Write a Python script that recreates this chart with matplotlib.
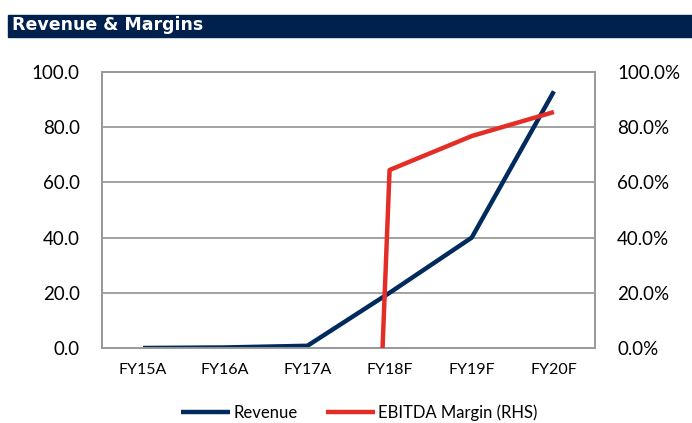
import numpy as np
import matplotlib
matplotlib.use('Agg')
import matplotlib.pyplot as plt
from matplotlib.patches import Rectangle
from matplotlib.ticker import FuncFormatter

years = ['FY15A', 'FY16A', 'FY17A', 'FY18F', 'FY19F', 'FY20F']
revenue = [0.0, 0.2, 0.8, 20.0, 40.0, 93.0]
ebitda_margin = [np.nan, np.nan, -690.0, 64.5, 76.8, 85.5]  # %, RHS

NAVY = '#002b5c'
RED = '#e32d26'
GRID = '#9a9a9a'

fig = plt.figure(figsize=(6.92, 4.23), dpi=100)

# header bar
fig.patches.append(Rectangle((8 / 692, 1 - 37 / 423), 684 / 692, 22 / 423,
                             transform=fig.transFigure, color='#00204e', zorder=0))
fig.text(12 / 692, 1 - 25 / 423, 'Revenue & Margins', color='white',
         fontsize=12.5, fontweight='bold', family='DejaVu Sans', va='center', ha='left')

ax = fig.add_axes([102 / 692, 75 / 423, 493 / 692, 276 / 423])
x = np.arange(len(years))

ax.plot(x, revenue, color=NAVY, lw=3.2, solid_capstyle='butt', zorder=3, label='Revenue')
ax.set_ylim(0, 100)
ax.set_xlim(-0.5, len(years) - 0.5)
ax.set_yticks(np.arange(0, 101, 20))
ax.yaxis.set_major_formatter(FuncFormatter(lambda v, p: f'{v:.1f}'))
ax.set_xticks(x)
ax.set_xticklabels(years, fontsize=11.5, family='Lato')
ax.tick_params(axis='x', length=0, pad=11)
ax.tick_params(axis='y', length=0, pad=16, labelsize=13.5)
for lab in ax.get_yticklabels():
    lab.set_family('Lato')
ax.grid(axis='y', color=GRID, lw=1.3)
ax.set_axisbelow(True)
for s in ax.spines.values():
    s.set_color(GRID)
    s.set_linewidth(1.3)

ax2 = ax.twinx()
ax2.plot(x, ebitda_margin, color=RED, lw=3.2, solid_capstyle='butt', zorder=3,
         label='EBITDA Margin (RHS)')
ax2.set_ylim(0, 100)
ax2.set_yticks(np.arange(0, 101, 20))
ax2.yaxis.set_major_formatter(FuncFormatter(lambda v, p: f'{v:.1f}%'))
ax2.tick_params(axis='y', length=0, pad=16, labelsize=13.5)
for lab in ax2.get_yticklabels():
    lab.set_family('Lato')
for s in ax2.spines.values():
    s.set_color(GRID)
    s.set_linewidth(1.3)

handles = ax.get_lines() + ax2.get_lines()
fig.legend(handles, [h.get_label() for h in handles], loc='center',
           bbox_to_anchor=(359 / 692, 1 - 413 / 423), ncol=2, frameon=False,
           prop={'family': 'Lato', 'size': 12}, handlelength=2.95,
           handletextpad=0.18, columnspacing=1.7)

fig.savefig('out.png', dpi=100)
